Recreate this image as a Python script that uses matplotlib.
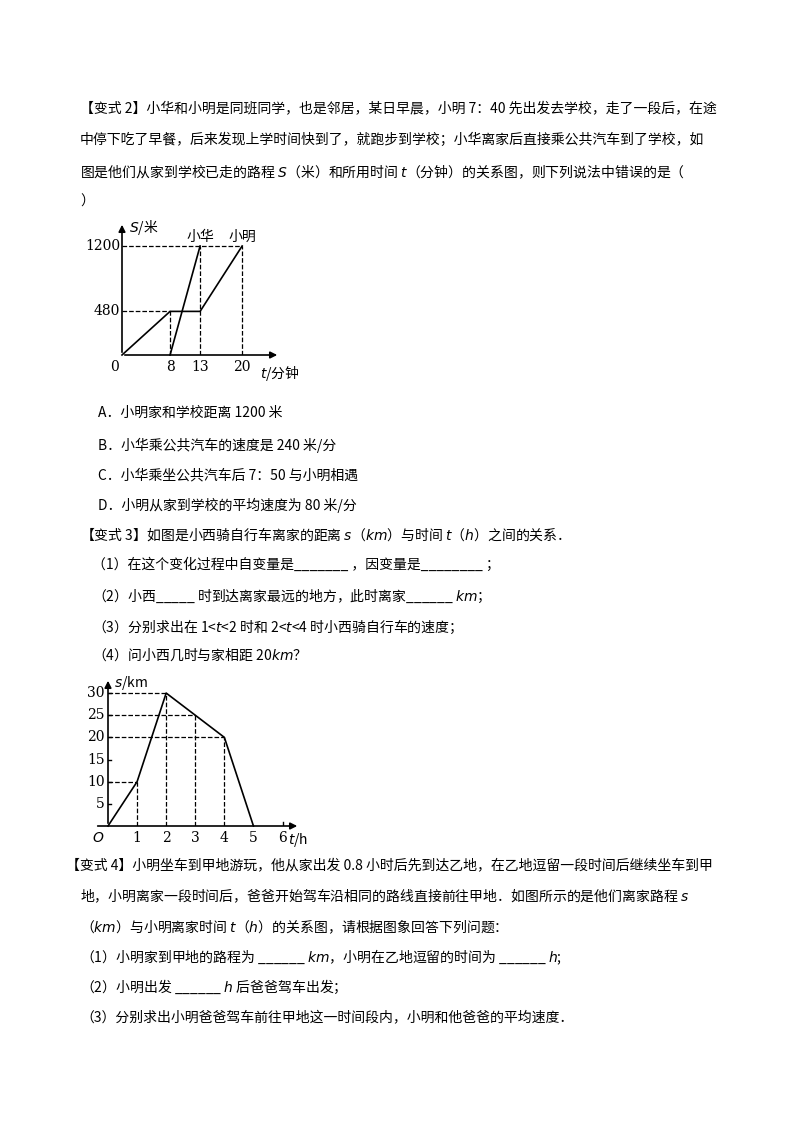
import matplotlib.pyplot as plt

plt.rcParams['font.family'] = ['Noto Sans CJK SC', 'DejaVu Sans']

# chart 1 data
t_ming = [0, 8, 13, 20]
s_ming = [0, 480, 480, 1200]
t_hua = [8, 13]
s_hua = [0, 1200]
x1_ticks = [8, 13, 20]
y1_ticks = [480, 1200]

# chart 2 data
t_xi = [0, 1, 2, 4, 5]
s_xi = [0, 10, 30, 20, 0]
x2_ticks = [1, 2, 3, 4, 5, 6]
y2_ticks = [5, 10, 15, 20, 25, 30]
guide_t = [1, 2, 3, 4]
guide_s = [10, 30, 25, 20]

W, H = 800, 1132
fig = plt.figure(figsize=(8, 11.32), dpi=100)

def line(y, s, x=80, **kw):
    fig.text(x / W, 1 - y / H, s, fontsize=10, va='center', ha='left', **kw)

line(108, '【变式 2】小华和小明是同班同学，也是邻居，某日早晨，小明 7：40 先出发去学校，走了一段后，在途')
line(140, '中停下吃了早餐，后来发现上学时间快到了，就跑步到学校；小华离家后直接乘公共汽车到了学校，如')
line(172, '图是他们从家到学校已走的路程 $S$（米）和所用时间 $t$（分钟）的关系图，则下列说法中错误的是（')
line(202, '）')
line(413, 'A．小明家和学校距离 1200 米', x=98)
line(445, 'B．小华乘公共汽车的速度是 240 米/分', x=98)
line(475, 'C．小华乘坐公共汽车后 7：50 与小明相遇', x=98)
line(505, 'D．小明从家到学校的平均速度为 80 米/分', x=98)
line(534, '【变式 3】如图是小西骑自行车离家的距离 $s$（$km$）与时间 $t$（$h$）之间的关系．')
line(565, '（1）在这个变化过程中自变量是_______ ，因变量是________ ；', x=92)
line(596, '（2）小西_____ 时到达离家最远的地方，此时离家______ $km$；', x=92)
line(627, '（3）分别求出在 1<$t$<2 时和 2<$t$<4 时小西骑自行车的速度；', x=92)
line(655, '（4）问小西几时与家相距 20$km$？', x=92)
line(865, '【变式 4】小明坐车到甲地游玩，他从家出发 0.8 小时后先到达乙地，在乙地逗留一段时间后继续坐车到甲', x=66)
line(896, '地，小明离家一段时间后，爸爸开始驾车沿相同的路线直接前往甲地．如图所示的是他们离家路程 $s$')
line(927, '（$km$）与小明离家时间 $t$（$h$）的关系图，请根据图象回答下列问题：')
line(957, '（1）小明家到甲地的路程为 ______ $km$，小明在乙地逗留的时间为 ______ $h$;')
line(987, '（2）小明出发 ______ $h$ 后爸爸驾车出发；')
line(1017, '（3）分别求出小明爸爸驾车前往甲地这一时间段内，小明和他爸爸的平均速度．')

def setup(ax):
    for sp in ax.spines.values():
        sp.set_visible(False)
    ax.set_xticks([])
    ax.set_yticks([])
    ax.patch.set_alpha(0)

# chart 1
ax1 = fig.add_axes([122 / W, 1 - 355 / H, 158 / W, 133 / H])
setup(ax1)
ax1.set_xlim(0, 26.3)
ax1.set_ylim(0, 1464)
ax1.annotate('', xy=(26.3, 0), xytext=(0, 0), annotation_clip=False,
             arrowprops=dict(arrowstyle='-|>', color='k', lw=1.2))
ax1.annotate('', xy=(0, 1464), xytext=(0, 0), annotation_clip=False,
             arrowprops=dict(arrowstyle='-|>', color='k', lw=1.2))
ax1.plot(t_ming, s_ming, color='k', lw=1.2, clip_on=False)
ax1.plot(t_hua, s_hua, color='k', lw=1.2, clip_on=False)
ax1.plot([0, 20], [1200, 1200], 'k--', lw=0.9)
ax1.plot([0, 8], [480, 480], 'k--', lw=0.9)
for tx, sy in [(8, 480), (13, 1200), (20, 1200)]:
    ax1.plot([tx, tx], [0, sy], 'k--', lw=0.9)
for tx in x1_ticks:
    ax1.text(tx, -60, str(tx), ha='center', va='top', fontsize=10, family='DejaVu Serif')
for sy in y1_ticks:
    ax1.text(-0.3, sy, str(sy), ha='right', va='center', fontsize=10, family='DejaVu Serif')
ax1.text(-0.6, -60, '0', ha='right', va='top', fontsize=10, family='DejaVu Serif')
ax1.text(1.2, 1400, '$S$/米', fontsize=10, va='center')
ax1.text(13, 1300, '小华', fontsize=10, ha='center', va='center')
ax1.text(20, 1300, '小明', fontsize=10, ha='center', va='center')
ax1.text(26.3, -100, '$t$/分钟', fontsize=10, ha='center', va='top')

# chart 2
ax2 = fig.add_axes([108 / W, 1 - 826 / H, 192 / W, 148 / H])
setup(ax2)
ax2.set_xlim(0, 6.6)
ax2.set_ylim(0, 33.4)
ax2.annotate('', xy=(6.6, 0), xytext=(-0.45, 0), annotation_clip=False,
             arrowprops=dict(arrowstyle='-|>', color='k', lw=1.2))
ax2.annotate('', xy=(0, 33.4), xytext=(0, 0), annotation_clip=False,
             arrowprops=dict(arrowstyle='-|>', color='k', lw=1.2))
ax2.plot(t_xi, s_xi, color='k', lw=1.2, clip_on=False)
for tx, sy in zip(guide_t, guide_s):
    ax2.plot([0, tx], [sy, sy], 'k--', lw=0.9)
    ax2.plot([tx, tx], [0, sy], 'k--', lw=0.9)
for tx in x2_ticks:
    ax2.text(tx, -1.2, str(tx), ha='center', va='top', fontsize=10, family='DejaVu Serif')
for sy in y2_ticks:
    ax2.plot([0, 0.12], [sy, sy], color='k', lw=1)
    ax2.text(-0.12, sy, str(sy), ha='right', va='center', fontsize=10, family='DejaVu Serif')
ax2.plot([6, 6], [0, 0.9], color='k', lw=1)
ax2.text(-0.12, -1.2, '$O$', ha='right', va='top', fontsize=10)
ax2.text(0.2, 32.3, '$s$/km', fontsize=10, va='center')
ax2.text(6.55, -1.2, '$t$/h', fontsize=10, ha='center', va='top')

fig.savefig('out.png', dpi=100, facecolor='white')
